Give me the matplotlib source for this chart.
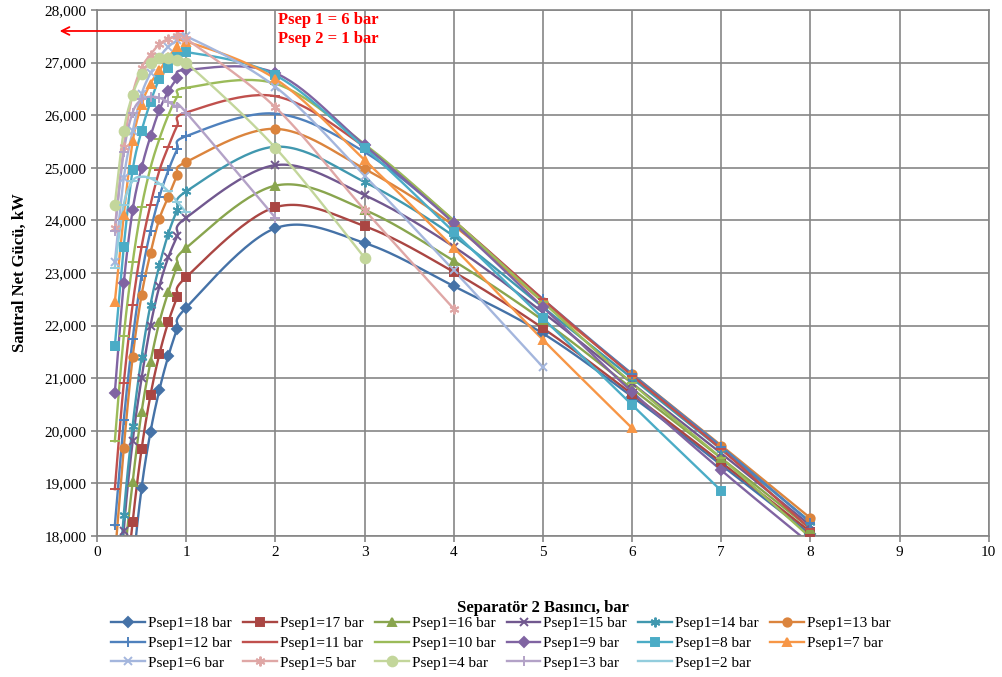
import numpy as np
import matplotlib
matplotlib.use('Agg')
import matplotlib.pyplot as plt
from matplotlib.ticker import FuncFormatter, MultipleLocator

plt.rcParams['font.family'] = ['Liberation Serif', 'DejaVu Serif']

# separator 2 pressures (bar)
x_low = [0.2, 0.3, 0.4, 0.5, 0.6, 0.7, 0.8, 0.9, 1.0]
x_high = [2, 3, 4, 5, 6, 7, 8]
x_all = x_low + x_high

# net plant power (kW) for each separator 1 pressure
p18 = [12500, 14800, 17300, 18910, 19980, 20780, 21420, 21940, 22340, 23850, 23570, 22750, 21850, 20650, 19350, 18030]
p17 = [14000, 16500, 18270, 19650, 20680, 21460, 22070, 22540, 22920, 24250, 23890, 23020, 21950, 20700, 19400, 18080]
p16 = [15000, 17400, 19030, 20360, 21310, 22070, 22640, 23130, 23475, 24660, 24200, 23230, 22100, 20800, 19480, 18140]
p15 = [15500, 18100, 19800, 21000, 22000, 22750, 23300, 23700, 24050, 25050, 24480, 23500, 22250, 20900, 19570, 18200]
p14 = [16000, 18400, 20100, 21400, 22400, 23150, 23750, 24200, 24550, 25400, 24730, 23700, 22350, 21000, 19650, 18270]
p13 = [17600, 19670, 21400, 22580, 23380, 24030, 24450, 24860, 25110, 25740, 24980, 23900, 22450, 21080, 19720, 18340]
p12 = [18200, 20200, 21750, 22950, 23800, 24450, 24950, 25350, 25600, 26030, 25300, 23980, 22500, 21080, 19700, 18250]
p11 = [18890, 20900, 22400, 23500, 24300, 24950, 25400, 25800, 26050, 26360, 25400, 24000, 22500, 21050, 19650, 18130]
p10 = [19800, 21800, 23200, 24250, 25000, 25550, 26000, 26350, 26520, 26600, 25450, 24000, 22450, 20900, 19480, 17970]
p9 = [20720, 22800, 24200, 25000, 25600, 26100, 26450, 26700, 26860, 26800, 25430, 23950, 22350, 20740, 19250, 17850]
p8 = [21610, 23500, 24960, 25700, 26250, 26690, 26900, 27100, 27200, 26760, 25380, 23780, 22140, 20490, 18860]
p7 = [22450, 24100, 25500, 26200, 26600, 26850, 27100, 27300, 27400, 26690, 25150, 23480, 21730, 20050]
p6 = [23200, 24800, 25700, 26400, 26800, 27100, 27300, 27420, 27500, 26540, 24850, 23050, 21210]
p5 = [23850, 25400, 26400, 26900, 27150, 27350, 27450, 27500, 27450, 26150, 24200, 22320]
p4 = [24300, 25700, 26390, 26780, 27000, 27080, 27080, 27050, 27000, 25380, 23290]
p3 = [23800, 25300, 26050, 26300, 26350, 26330, 26250, 26150, 26050, 24050]
p2 = [23100, 24300, 24750, 24830, 24800, 24700, 24550, 24350, 24150]

labels = ['Psep1=%d bar' % p for p in range(18, 1, -1)]
values = [p18, p17, p16, p15, p14, p13, p12, p11, p10, p9, p8, p7, p6, p5, p4, p3, p2]

asterisk = (6, 2, 0)
styles = [
    ('#4572A7', 'D', 5), ('#AA4643', 's', 6), ('#89A54E', '^', 6),
    ('#71588F', 'x', 6), ('#4198AF', asterisk, 7), ('#DB843D', 'o', 6),
    ('#4F81BD', '+', 7), ('#C0504D', '_', 7), ('#9BBB59', '_', 7),
    ('#8064A2', 'D', 5), ('#4BACC6', 's', 6), ('#F79646', '^', 6),
    ('#A4B6DD', 'x', 6), ('#DFA7A6', asterisk, 7), ('#C3D69B', 'o', 7),
    ('#B3A2C7', '+', 7), ('#93CDDD', '_', 7),
]


def smooth(x, y, n=30):
    # bezier smoothing like spreadsheet "smoothed line"
    x = np.asarray(x, float)
    y = np.asarray(y, float)
    pts = np.column_stack([x, y])
    out = [pts[0]]
    t = np.linspace(0, 1, n)[1:, None]
    for i in range(len(pts) - 1):
        p0 = pts[i - 1] if i > 0 else pts[i]
        p1 = pts[i]
        p2 = pts[i + 1]
        p3 = pts[i + 2] if i + 2 < len(pts) else pts[i + 1]
        c1 = p1 + (p2 - p0) / 6
        c2 = p2 - (p3 - p1) / 6
        seg = ((1 - t) ** 3) * p1 + 3 * ((1 - t) ** 2) * t * c1 + 3 * (1 - t) * t ** 2 * c2 + t ** 3 * p2
        out.extend(seg)
    out = np.array(out)
    return out[:, 0], out[:, 1]


fig = plt.figure(figsize=(10.02, 6.77), dpi=100)
ax = fig.add_axes([0.0968, 0.2083, 0.890, 0.777])

handles = []
for lab, yv, (col, mk, ms) in zip(labels, values, styles):
    xv = x_all[:len(yv)]
    sx, sy = smooth(xv, yv)
    ax.plot(sx, sy, color=col, lw=1.7, zorder=2)
    ax.plot(xv, yv, ls='none', marker=mk, ms=ms, color=col, mec=col, mew=1.4, zorder=3)
    h, = ax.plot([], [], color=col, lw=1.7, marker=mk, ms=ms, mec=col, mew=1.4)
    handles.append(h)

ax.set_xlim(0, 10)
ax.set_ylim(18000, 28000)
ax.xaxis.set_major_locator(MultipleLocator(1))
ax.yaxis.set_major_locator(MultipleLocator(1000))
ax.yaxis.set_major_formatter(FuncFormatter(lambda v, p: '{:,.0f}'.format(v)))
ax.grid(True, color='#868686', lw=1.2)
ax.set_axisbelow(True)
for s in ax.spines.values():
    s.set_color('#868686')
    s.set_linewidth(1.2)
ax.tick_params(colors='#868686', length=4, width=1.2, labelsize=11, labelcolor='black')

ax.set_xlabel('Separatör 2 Basıncı, bar', fontsize=12, fontweight='bold', labelpad=29)
ax.set_ylabel('Santral Net Gücü, kW', fontsize=12, fontweight='bold', labelpad=12)

# optimum point marker
ax.annotate('', xy=(-0.45, 27600), xytext=(1.0, 27600),
            arrowprops=dict(arrowstyle='->', color='red', lw=1.3, mutation_scale=14),
            annotation_clip=False)
ax.text(2.03, 27960, 'Psep 1 = 6 bar\nPsep 2 = 1 bar', color='red', fontsize=12,
        fontweight='bold', va='top', ha='left', linespacing=1.25)

# legend filled row by row
order = [r * 6 + c for c in range(6) for r in range(3) if r * 6 + c < len(handles)]
fig.legend([handles[i] for i in order], [labels[i] for i in order], ncol=6,
           loc='lower center', bbox_to_anchor=(0.5, -0.005), frameon=False, fontsize=11,
           handlelength=2.2, handletextpad=0.2, columnspacing=0.75, labelspacing=0.4,
           borderpad=0.2, numpoints=1)

fig.savefig('out.png', dpi=100)
